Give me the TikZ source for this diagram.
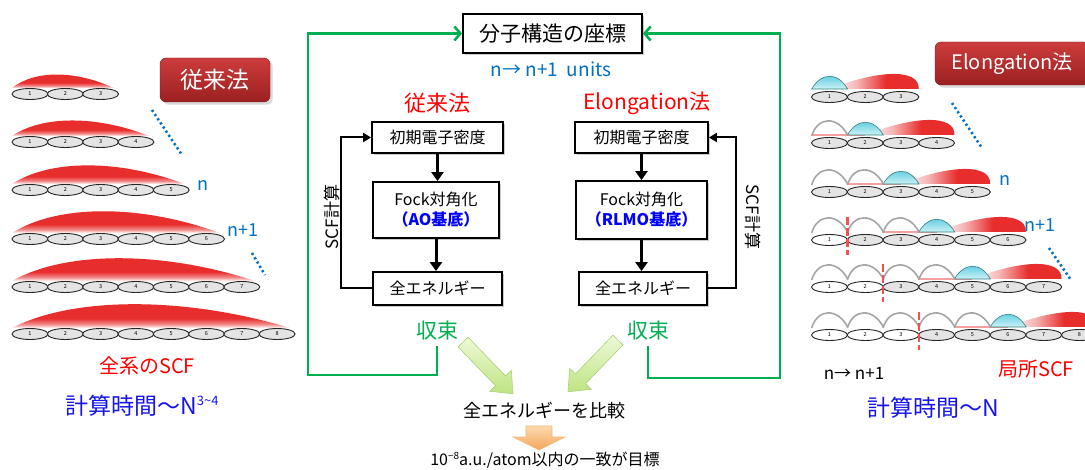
\documentclass[tikz,border=0pt]{standalone}
\usepackage{fontspec}
\setmainfont{Noto Sans CJK JP}
\usetikzlibrary{arrows.meta, shapes.geometric, shadows}

\definecolor{hred}{RGB}{232,45,45}
\definecolor{fraggray}{RGB}{228,228,228}
\definecolor{cyanA}{RGB}{70,195,220}
\definecolor{cyanB}{RGB}{205,242,246}
\definecolor{arcgray}{RGB}{165,165,165}
\definecolor{dotblue}{RGB}{0,112,192}
\definecolor{convgreen}{RGB}{0,176,80}
\definecolor{tagtop}{RGB}{205,60,60}
\definecolor{tagbot}{RGB}{155,32,32}
\definecolor{timeblue}{RGB}{20,20,235}
\definecolor{cutred}{RGB}{245,80,80}
\definecolor{lgreenA}{RGB}{238,249,215}
\definecolor{lgreenB}{RGB}{190,228,130}
\definecolor{lgreenC}{RGB}{170,210,120}
\definecolor{orangeA}{RGB}{252,218,175}
\definecolor{orangeB}{RGB}{245,165,90}

% red density: solid on top, fading out at the base / to the left
\pgfdeclareverticalshading{humpfade}{100bp}{color(0bp)=(white); color(25bp)=(white); color(31bp)=(hred!55); color(40bp)=(hred); color(100bp)=(hred)}
\pgfdeclarehorizontalshading{redfade}{100bp}{color(0bp)=(white); color(25bp)=(white); color(40bp)=(hred!35); color(56bp)=(hred); color(100bp)=(hred)}

\tikzset{
  frag/.style={ellipse, draw=black!85, line width=0.9pt, fill=fraggray, minimum width=36pt, minimum height=11pt, inner sep=0pt, font=\fontsize{5.5}{6}\selectfont},
  tag/.style={rounded corners=6pt, top color=tagtop, bottom color=tagbot, draw=tagbot!80!black, text=white, drop shadow={opacity=0.3}, inner sep=0pt},
  flowbox/.style={draw, line width=1.8pt, fill=white, drop shadow={opacity=0.4, shadow xshift=2pt, shadow yshift=-2pt}, inner sep=1pt, font=\fontsize{16}{20}\selectfont},
  flow/.style={line width=3pt, -{Triangle[length=9pt,width=12pt]}},
  scf/.style={line width=2pt, -{Triangle[length=8pt,width=9pt]}},
  conv/.style={convgreen, line width=2.6pt, -{Straight Barb[length=6pt,width=14pt]}},
  dots/.style={dotblue, line width=2.6pt, dash pattern=on 2.2pt off 2.8pt},
  cutline/.style={cutred, line width=2.4pt, dash pattern=on 8pt off 3pt},
  sizelabel/.style={text=dotblue, font=\fontsize{18}{20}\selectfont, inner sep=0pt},
  txt/.style={inner sep=1pt},
}

\begin{document}
\begin{tikzpicture}[x=1pt, y=-1pt]
\useasboundingbox (0,0) rectangle (1085,470);
\clip (0,0) rectangle (1085,470);

%%% conventional: SCF over the whole chain
\foreach \r/\y/\h in {1/94/13, 2/142/15, 3/190/18, 4/239/21, 5/287/22, 6/334/23}{
  \pgfmathtruncatemacro\L{\r+2}
  \pgfmathsetmacro\xe{12+35.3*\L-4}
  \shade[shading=humpfade] (12,\y-6) .. controls ({12+0.22*(\xe-12)},{\y-6-1.38*\h}) and ({\xe-0.38*(\xe-12)},{\y-6-1.38*\h}) .. (\xe,\y-6) -- cycle;
  \foreach \k in {1,...,\L}
    \node[frag] (c\r-\k) at ({30+35.3*(\k-1)},\y) {\k};
}
\node[tag, minimum width=110pt, minimum height=44pt, font=\fontsize{23}{26}\selectfont] (ktag) at (215,80) {従来法};
\draw[dots] (152,110) -- (182,155);
\draw[dots] (252,253) -- (265,275);
\node[sizelabel] (kn) at (203,185) {n};
\node[sizelabel] (kn1) at (243,230) {n+1};
\node[txt, text=red, font=\fontsize{20}{22}\selectfont] (kall) at (147,366) {全系のSCF};
\node[txt, text=timeblue, font=\fontsize{23}{26}\selectfont] (ktime) at (142,406) {計算時間～N\raisebox{9pt}{\fontsize{13}{14}\selectfont 3\textasciitilde 4}};

%%% elongation: frozen units, active unit, new units
\foreach \r/\y in {1/97, 2/143, 3/192, 4/240, 5/287, 6/335}{
  \pgfmathtruncatemacro\L{\r+2}
  \pgfmathsetmacro\yb{\y-8}
  \pgfmathsetmacro\xc{811.65+35.7*(\r-1)} % left end of active unit
  \pgfmathsetmacro\xs{\xc+17.85}          % middle of active unit
  \pgfmathsetmacro\xe{811.65+35.7*\L}     % right end of chain
  \shade[shading=redfade] (\xs,\yb) .. controls ({\xs+0.5*(\xe-\xs)},\yb-18) and (\xe+1,\yb-22) .. (\xe,\yb) -- cycle;
  \ifnum\r>1
    \draw[hred!45, line width=1.2pt] (\xc-35.7,\yb) -- (\xs,\yb);
  \fi
  \shade[top color=cyanA, bottom color=cyanB, draw=teal!60!gray, line width=0.6pt] (\xc,\yb) .. controls (\xc+10,\yb-17) and (\xc+26,\yb-17) .. (\xc+36,\yb) -- cycle;
  \ifnum\r>1
    \pgfmathtruncatemacro\rr{\r-1}
    \foreach \k in {1,...,\rr}
      \draw[arcgray, line width=1.6pt] ({811.65+35.7*(\k-1)},\yb+1) .. controls ({817.65+35.7*(\k-1)},\yb-19) and ({837.65+35.7*(\k-1)},\yb-19) .. ({847.65+35.7*(\k-1)},\yb);
  \fi
  \foreach \k in {1,...,\L}{
    \pgfmathtruncatemacro\old{\k<\r-2}
    \ifnum\old=1 \def\fc{white}\else\def\fc{fraggray}\fi
    \node[frag, fill=\fc] (g\r-\k) at ({829.5+35.7*(\k-1)},\y) {\k};
  }
  \ifnum\r>3
    \draw[cutline] ({811.65+35.7*(\r-3)},\y-23) -- ({811.65+35.7*(\r-3)},\y+15);
  \fi
}
\node[tag, minimum width=154pt, minimum height=43pt, font=\fontsize{20}{24}\selectfont] (etag) at (1012,63.5) {Elongation法};
\draw[dots] (952,103) -- (982,148);
\draw[dots] (1049,248) -- (1071,280);
\node[sizelabel] (en) at (1005,180) {n};
\node[sizelabel] (en1) at (1040,225) {n+1};
\node[txt, font=\fontsize{17}{18}\selectfont] (eunit) at (854,373) {n→ n+1};
\node[txt, text=red, font=\fontsize{20}{22}\selectfont] (eloc) at (1036,369) {局所SCF};
\node[txt, text=timeblue, font=\fontsize{23}{26}\selectfont] (etime) at (933,408) {計算時間～N};

%%% flow chart
\node[flowbox, minimum width=179pt, minimum height=39pt, font=\fontsize{21}{24}\selectfont] (coord) at (552.5,33.5) {分子構造の座標};
\node[txt, text=dotblue, font=\fontsize{19}{20}\selectfont] (units) at (551,69) {n→ n+1\ \ units};
\node[txt, text=red, font=\fontsize{22}{24}\selectfont] (khead) at (437,103) {従来法};
\node[txt, text=red, font=\fontsize{21}{24}\selectfont] (ehead) at (647,103) {Elongation法};

\node[flowbox, minimum width=131pt, minimum height=31pt] (kinit) at (437.5,137.5) {初期電子密度};
\node[flowbox, minimum width=126pt, minimum height=56pt, align=center] (kfock) at (436,210) {Fock対角化\\{\color{blue}\bfseries （AO基底）}};
\node[flowbox, minimum width=129pt, minimum height=33pt] (kene) at (437.5,288.5) {全エネルギー};
\node[flowbox, minimum width=133pt, minimum height=31pt] (einit) at (641.5,137.5) {初期電子密度};
\node[flowbox, minimum width=131pt, minimum height=58pt, align=center] (efock) at (641.5,210) {Fock対角化\\{\color{blue}\bfseries （RLMO基底）}};
\node[flowbox, minimum width=128pt, minimum height=33pt] (eene) at (643,288.5) {全エネルギー};

\draw[flow] (kinit.south) -- (kinit.south |- kfock.north);
\draw[flow] (kfock.south) -- (kfock.south |- kene.north);
\draw[flow] (einit.south) -- (einit.south |- efock.north);
\draw[flow] (efock.south) -- (efock.south |- eene.north);

\draw[scf] (kene.west) -| ([xshift=-30pt]kinit.west) -- (kinit.west);
\draw[scf] (eene.east) -| ([xshift=27pt]einit.east) -- (einit.east);
\node[txt, rotate=90, font=\fontsize{17}{18}\selectfont] (kscf) at (332,217) {SCF計算};
\node[txt, rotate=-90, font=\fontsize{17}{18}\selectfont] (escf) at (753,217) {SCF計算};

\node[txt, text=convgreen, font=\fontsize{21}{24}\selectfont] (kconv) at (437,331) {収束};
\node[txt, text=convgreen, font=\fontsize{21}{24}\selectfont] (econv) at (648,331) {収束};
\coordinate (kcorner) at (308,375);
\coordinate (ecorner) at (780,378);
\draw[conv] ([yshift=-4pt]kconv.south) |- (kcorner) |- (coord.west);
\draw[conv] ([yshift=-4pt]econv.south) |- (ecorner) |- (coord.east);

% converged energies are compared
\shade[top color=lgreenA, bottom color=lgreenB, draw=lgreenC, line width=0.6pt, shift={(463,342)}, rotate=-46] (0,-7) -- (54,-7) -- (54,-15) -- (72,0) -- (54,15) -- (54,7) -- (0,7) -- cycle;
\shade[top color=lgreenA, bottom color=lgreenB, draw=lgreenC, line width=0.6pt, shift={(618,340)}, rotate=-134] (0,-7) -- (54,-7) -- (54,-15) -- (72,0) -- (54,15) -- (54,7) -- (0,7) -- cycle;
\node[txt, font=\fontsize{18}{20}\selectfont] (cmp) at (544,411) {全エネルギーを比較};
\shade[top color=orangeA, bottom color=orangeB, draw=orangeB!80, line width=0.6pt, shift={(539,426)}, rotate=-90] (0,-13) -- (11,-13) -- (11,-26) -- (24,0) -- (11,26) -- (11,13) -- (0,13) -- cycle;
\node[txt, font=\fontsize{16}{18}\selectfont] (goal) at (545,460) {10\raisebox{6pt}{\fontsize{10}{11}\selectfont −8}a.u./atom以内の一致が目標};
\end{tikzpicture}
\end{document}
